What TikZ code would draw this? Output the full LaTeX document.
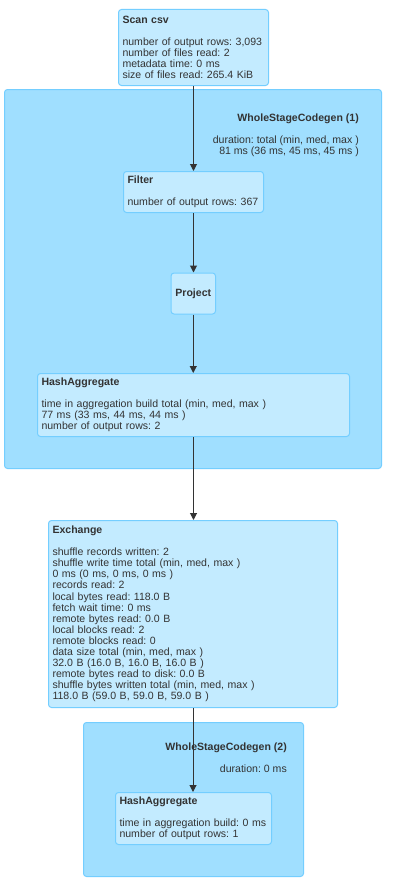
\documentclass[tikz,border=0pt]{standalone}
\usepackage{fontspec}
\setmainfont{Liberation Sans}
\frenchspacing
\usetikzlibrary{arrows.meta}
\definecolor{clfill}{HTML}{A0DFFF}
\definecolor{clstroke}{HTML}{74CEFF}
\definecolor{ndfill}{HTML}{C3EBFF}
\definecolor{ndstroke}{HTML}{74CEFF}
\definecolor{txt}{HTML}{333333}
\begin{document}
\begin{tikzpicture}[x=1pt,y=-1pt,
  every node/.style={font=\fontsize{10.55}{11.1}\selectfont\frenchspacing, text=txt},
  cluster/.style={draw=clstroke, fill=clfill, rounded corners=3, line width=1,
    anchor=north west, inner sep=0},
  opbox/.style={draw=ndstroke, fill=ndfill, rounded corners=3, line width=1,
    anchor=north west, inner xsep=4, inner ysep=0, align=left},
  clabel/.style={anchor=north east, inner sep=0, align=right},
  flow/.style={draw=txt, line width=1, -{Triangle[length=7,width=7]}}]
\useasboundingbox[fill=white] (0,0) rectangle (405,891);

% stage clusters
\node[cluster, minimum width=377, minimum height=379] (wsc1) at (4,89) {};
\node[cluster, minimum width=220, minimum height=154] (wsc2) at (83,722) {};

\node[clabel] (wsc1lbl) at (359,113.5) {\textbf{WholeStageCodegen (1)}\\[11.1pt]
  duration: total (min, med, max )\\ 81 ms (36 ms, 45 ms, 45 ms )};
\node[clabel] (wsc2lbl) at (287,742.5) {\textbf{WholeStageCodegen (2)}\\[11.1pt]
  duration: 0 ms};

% operators
\node[opbox, minimum height=76, text width=142] (scan) at (118,9)
  {\textbf{Scan csv}\\[11.1pt]
   number of output rows: 3,093\\
   number of files read: 2\\
   metadata time: 0 ms\\
   size of files read: 265.4 KiB};

\node[opbox, minimum height=41, text width=132] (filter) at (123,171)
  {\textbf{Filter}\\[11.1pt]
   number of output rows: 367};

\node[opbox, minimum height=41, text width=36.5, align=center] (project) at (170.5,272.5)
  {\textbf{Project}};

\node[opbox, minimum height=63, text width=304] (hagg1) at (37,373)
  {\textbf{HashAggregate}\\[11.1pt]
   time in aggregation build total (min, med, max )\\
   77 ms (33 ms, 44 ms, 44 ms )\\
   number of output rows: 2};

\node[opbox, minimum height=187, text width=281] (exchange) at (48,520)
  {\textbf{Exchange}\\[11.1pt]
   shuffle records written: 2\\
   shuffle write time total (min, med, max )\\
   0 ms (0 ms, 0 ms, 0 ms )\\
   records read: 2\\
   local bytes read: 118.0 B\\
   fetch wait time: 0 ms\\
   remote bytes read: 0.0 B\\
   local blocks read: 2\\
   remote blocks read: 0\\
   data size total (min, med, max )\\
   32.0 B (16.0 B, 16.0 B, 16.0 B )\\
   remote bytes read to disk: 0.0 B\\
   shuffle bytes written total (min, med, max )\\
   118.0 B (59.0 B, 59.0 B, 59.0 B )};

\node[opbox, minimum height=52, text width=148] (hagg2) at (115,792)
  {\textbf{HashAggregate}\\[11.1pt]
   time in aggregation build: 0 ms\\
   number of output rows: 1};

% data flow
\draw[flow] (scan.south) -- (scan.south |- filter.north);
\draw[flow] (filter.south) -- (filter.south |- project.north);
\draw[flow] (project.south) -- (project.south |- hagg1.north);
\draw[flow] (hagg1.south) -- (hagg1.south |- exchange.north);
\draw[flow] (exchange.south) -- (exchange.south |- hagg2.north);
\end{tikzpicture}
\end{document}
